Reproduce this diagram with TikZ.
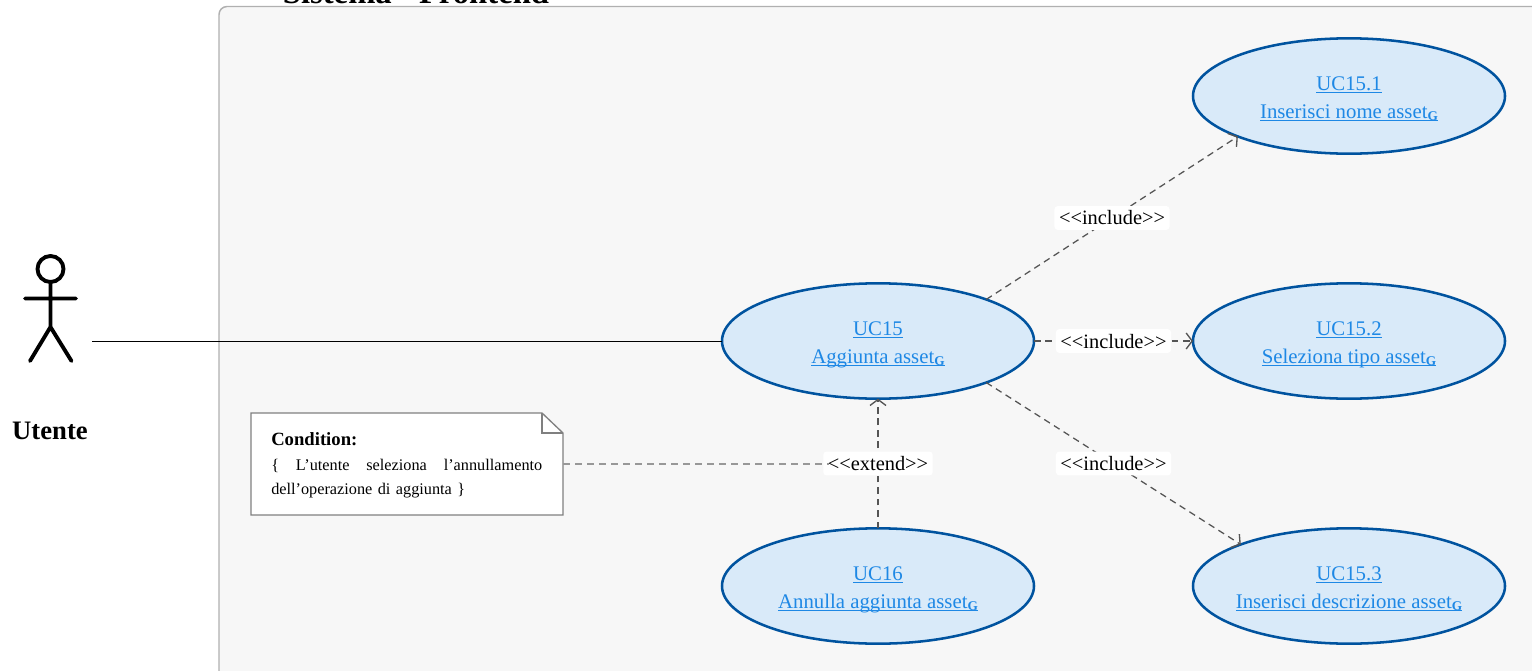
\documentclass[tikz,border=0pt]{standalone}
\usepackage{fontspec}
\setmainfont{Liberation Serif}
\usetikzlibrary{shapes.geometric,arrows.meta,calc}
\definecolor{ucfill}{HTML}{D9EAF9}
\definecolor{ucline}{HTML}{00539F}
\definecolor{uctext}{HTML}{1E88E5}
\definecolor{panelfill}{HTML}{F7F7F7}
\definecolor{panelline}{HTML}{B0B0B0}
\definecolor{noteline}{HTML}{808080}
\definecolor{notedash}{HTML}{989898}
\definecolor{depline}{HTML}{555555}
\newcommand{\ulx}[1]{\leavevmode\setbox0\hbox{#1}\rlap{\rule[-1.9pt]{\wd0}{0.6pt}}\smash{\box0}}
\newcommand{\gsub}{\raisebox{-1.8pt}{\fontsize{10}{10}\selectfont\bfseries G}}
\newcommand{\uctwo}[2]{\rule{0pt}{15pt}\makebox[0pt]{\ulx{#1}}\\\makebox[0pt]{\ulx{#2}}\rule[-3pt]{0pt}{3pt}}
\tikzset{
  usecase/.style={ellipse,draw=ucline,fill=ucfill,line width=1.9pt,minimum width=234pt,minimum height=86.5pt,inner sep=0pt,outer sep=0pt,align=center,text=uctext,font=\fontsize{15.6}{21}\selectfont},
  dep/.style={draw=depline,line width=0.95pt,dash pattern=on 5pt off 3.6pt,-{Straight Barb[length=4.5pt,width=12pt,line width=1pt]}},
  deplabel/.style={fill=white,rounded corners=2.5pt,inner xsep=3.4pt,inner ysep=1.2pt,text height=13pt,text depth=2.5pt,font=\fontsize{15.3}{17}\selectfont,text=black},
  actorline/.style={line width=2.9pt,line cap=round,black},
}
\begin{document}
\begin{tikzpicture}[x=0.75pt,y=-0.75pt]
\useasboundingbox (0,0) rectangle (1532,671);
\clip (0,0) rectangle (1532,671);
\fill[white] (0,0) rectangle (1532,671);
% system panel
\draw[draw=panelline,fill=panelfill,line width=1.1pt,rounded corners=6pt] (219,6.5) rectangle (1600,720);
\node[anchor=base,font=\fontsize{24.5}{26}\selectfont\bfseries,inner sep=0pt] (title) at (416,3) {Sistema - Frontend};
% actor
\draw[actorline] (50.5,269) circle (13);
\draw[actorline] (50.5,282) -- (50.5,327) (25,298.5) -- (76,298.5) (30,361) -- (50.5,327) -- (71.5,361);
\node[anchor=base,font=\fontsize{20}{22}\selectfont\bfseries,inner sep=0pt] (actor) at (50,439.5) {Utente};
\coordinate (actorport) at (92,341);
% use cases
\node[usecase] (uc15) at (878,341) {\uctwo{UC15}{Aggiunta asset\gsub}};
\node[usecase] (uc151) at (1349,96) {\uctwo{UC15.1}{Inserisci nome asset\gsub}};
\node[usecase] (uc152) at (1349,341) {\uctwo{UC15.2}{Seleziona tipo asset\gsub}};
\node[usecase] (uc153) at (1349,586) {\uctwo{UC15.3}{Inserisci descrizione asset\gsub}};
\node[usecase] (uc16) at (878,586) {\uctwo{UC16}{Annulla aggiunta asset\gsub}};
% association
\draw[black,line width=0.7pt] (actorport) -- (uc15.west);
% dependencies
\draw[dep] (uc15.21) -- node[deplabel,solid] (l1) {<{}<include>{}>} (uc151.200.5);
\draw[dep] (uc15.east) -- node[deplabel,solid] (l2) {<{}<include>{}>} (uc152.west);
\draw[dep] (uc15.-21) -- node[deplabel,solid] (l3) {<{}<include>{}>} (uc153.159.5);
\draw[dep] (uc16.north) -- node[deplabel,solid] (lext) {<{}<extend>{}>} (uc15.south);
% note
\node[minimum width=234pt,minimum height=76.5pt,inner sep=0pt,outer sep=0pt] (note) at (407,464) {};
\draw[draw=noteline,fill=white,line width=1pt] (note.north west) -- ($(note.north east)+(-21,0)$) -- ($(note.north east)+(0,20)$) -- (note.south east) -- (note.south west) -- cycle;
\draw[draw=noteline,line width=0.8pt] ($(note.north east)+(-21,0)$) |- ($(note.north east)+(0,20)$);
\node[anchor=north west,inner sep=0pt,text width=203.25pt,font=\fontsize{12.2}{18}\selectfont] (notetext) at (271,432) {{\bfseries\fontsize{14}{18}\selectfont Condition:}\\[1pt]\makebox[203.25pt]{\{\hfill L’utente\hfill seleziona\hfill l’annullamento}\\dell’operazione di aggiunta \}};
\draw[draw=notedash,line width=1pt,dash pattern=on 5.5pt off 3.5pt,shorten >=-5pt] (note.east) -- (note.east -| lext.west);
\end{tikzpicture}
\end{document}
